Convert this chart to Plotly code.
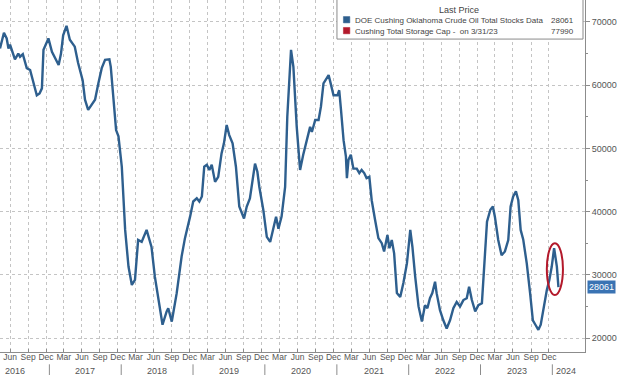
import plotly.graph_objects as go

# ---------------- data ----------------
dates = [
    "2016-04-25", "2016-05-15", "2016-05-29", "2016-06-07", "2016-06-15", "2016-07-01",
    "2016-07-10", "2016-07-27", "2016-08-05", "2016-08-19", "2016-09-08", "2016-09-25",
    "2016-10-12", "2016-10-29", "2016-11-12", "2016-11-24", "2016-12-02", "2016-12-14",
    "2016-12-27", "2017-01-14", "2017-01-27", "2017-02-17", "2017-03-01", "2017-03-12",
    "2017-03-29", "2017-04-15", "2017-05-10", "2017-05-27", "2017-06-19", "2017-07-01",
    "2017-07-17", "2017-08-04", "2017-08-21", "2017-09-07", "2017-09-24", "2017-10-11",
    "2017-11-02", "2017-11-09", "2017-11-22", "2017-12-06", "2017-12-18", "2018-01-04",
    "2018-01-21", "2018-02-07", "2018-02-24", "2018-03-12", "2018-03-28", "2018-04-15",
    "2018-05-10", "2018-06-04", "2018-06-21", "2018-07-13", "2018-07-30", "2018-08-20",
    "2018-08-28", "2018-09-15", "2018-10-10", "2018-11-04", "2018-11-21", "2018-12-17",
    "2019-01-02", "2019-01-20", "2019-02-02", "2019-02-15", "2019-02-27", "2019-03-12",
    "2019-03-25", "2019-04-06", "2019-04-23", "2019-05-09", "2019-05-26", "2019-06-07",
    "2019-06-21", "2019-07-04", "2019-07-21", "2019-08-07", "2019-08-24", "2019-09-17",
    "2019-10-01", "2019-10-17", "2019-10-31", "2019-11-12", "2019-11-24", "2019-12-04",
    "2019-12-24", "2020-01-11", "2020-01-28", "2020-02-14", "2020-02-27", "2020-03-10",
    "2020-03-26", "2020-04-13", "2020-04-24", "2020-05-13", "2020-05-25", "2020-06-11",
    "2020-06-28", "2020-07-14", "2020-08-01", "2020-08-18", "2020-08-27", "2020-09-13",
    "2020-09-30", "2020-10-12", "2020-10-25", "2020-11-12", "2020-11-20", "2020-11-28",
    "2020-12-15", "2021-01-04", "2021-01-13", "2021-01-22", "2021-02-04", "2021-02-16",
    "2021-02-21", "2021-03-01", "2021-03-13", "2021-03-26", "2021-04-12", "2021-04-25",
    "2021-05-07", "2021-05-20", "2021-06-01", "2021-06-15", "2021-06-27", "2021-07-14",
    "2021-07-31", "2021-08-17", "2021-08-29", "2021-09-15", "2021-09-25", "2021-10-07",
    "2021-10-19", "2021-11-02", "2021-11-19", "2021-12-05", "2021-12-23", "2022-01-09",
    "2022-01-20", "2022-02-03", "2022-02-20", "2022-03-09", "2022-03-25", "2022-04-06",
    "2022-04-19", "2022-05-01", "2022-05-15", "2022-05-23", "2022-06-09", "2022-06-26",
    "2022-07-13", "2022-07-30", "2022-08-16", "2022-09-02", "2022-09-19", "2022-10-06",
    "2022-10-23", "2022-11-04", "2022-11-18", "2022-12-05", "2022-12-21", "2023-01-08",
    "2023-01-20", "2023-02-03", "2023-02-20", "2023-03-05", "2023-03-15", "2023-04-01",
    "2023-04-18", "2023-05-05", "2023-05-22", "2023-06-03", "2023-06-16", "2023-06-30",
    "2023-07-12", "2023-07-24", "2023-08-06", "2023-08-24", "2023-09-10", "2023-09-24",
    "2023-10-07", "2023-10-22", "2023-11-03", "2023-11-16", "2023-12-04", "2023-12-17",
    "2023-12-29", "2024-01-10", "2024-01-24", "2024-02-01",
]
stocks = [
    65800, 68300, 67400, 65800, 66400, 64800,
    64100, 65000, 64500, 64900, 62700, 62400,
    60600, 58400, 58700, 59500, 65600, 66600,
    67400, 65300, 64500, 63200, 65000, 67900,
    69400, 67200, 66100, 63500, 60800, 57700,
    56100, 56900, 57700, 60300, 62700, 64000,
    64100, 62900, 57700, 52900, 51900, 47100,
    37100, 31300, 28400, 29200, 35500, 35200,
    37100, 34400, 29700, 25000, 22100, 24200,
    24700, 22600, 27100, 32900, 35800, 39200,
    41600, 42100, 41600, 42400, 47100, 47400,
    46600, 47400, 44700, 45500, 49200, 50800,
    53700, 52100, 50800, 47100, 40800, 38900,
    40800, 42100, 45000, 47600, 46300, 43900,
    40300, 36000, 35200, 37600, 39200, 37300,
    39200, 43900, 55000, 65600, 62900, 53400,
    46600, 49000, 51400, 53400, 52600, 54500,
    54500, 56600, 60300, 61100, 61600, 60600,
    58400, 58400, 59200, 56100, 51300, 48700,
    45300, 48200, 49000, 46800, 46800, 46100,
    46600, 46100, 45300, 45500, 41800, 38700,
    35800, 35000, 33700, 36300, 34200, 35500,
    33400, 27100, 26500, 28700, 31800, 37100,
    34400, 29700, 25000, 22600, 25200, 24700,
    26300, 27100, 28900, 27100, 24400, 22800,
    21500, 22800, 24700, 25700, 25000, 26000,
    26300, 28100, 26000, 24200, 25200, 25500,
    31300, 38400, 40300, 40800, 39200, 35500,
    33100, 33700, 35500, 40800, 42400, 43200,
    41800, 37100, 35600, 31800, 27100, 22800,
    22100, 21300, 22100, 24400, 27600, 29200,
    31300, 34200, 31300, 28061,
]

series_name = "DOE Cushing Oklahoma Crude Oil Total Stocks Data"
last_value = 28061
cap_name = "Cushing Total Storage Cap -  on 3/31/23"
cap_value = 77990
legend_title = "Last Price"

tick_years = [2016, 2017, 2018, 2019, 2020, 2021, 2022, 2023]
tick_months = [("Mar", 3), ("Jun", 6), ("Sep", 9), ("Dec", 12)]
year_labels = ["2016", "2017", "2018", "2019", "2020", "2021", "2022", "2023", "2024"]
year_label_dates = ["2016-07-08", "2017-07-01", "2018-07-01", "2019-07-01", "2020-07-01",
                    "2021-07-08", "2022-07-06", "2023-07-06", "2024-03-10"]
year_breaks = ["2017-01-01", "2018-01-01", "2019-01-01", "2020-01-01",
               "2021-01-01", "2022-01-01", "2023-01-01", "2024-01-01"]
y_ticks = [20000, 30000, 40000, 50000, 60000, 70000]
y_tick_text = ["20000", "30000", "40000", "50000", "60000", "70000"]

x_range = ["2016-04-25", "2024-06-15"]
y_range = [17785, 73480]

# build quarterly month ticks (mid-month), from Jun 2016 to Dec 2023
tick_vals, tick_text = [], []
for yr in tick_years:
    for name, m in tick_months:
        if yr == 2016 and m < 6:
            continue
        tick_vals.append(f"{yr}-{m:02d}-15")
        tick_text.append(name)

# ---------------- styling ----------------
LINE = "#2e5f8e"
RED = "#b3192b"
GRID = "#c4c4c4"
AXIS = "#8c8c8c"
TXT = "#555555"
FONT = "Liberation Sans"

fig = go.Figure()
fig.add_trace(go.Scatter(x=dates, y=stocks, mode="lines",
                         line=dict(color=LINE, width=2.4), name=series_name,
                         showlegend=False, hoverinfo="skip"))
# storage cap series (sits above the visible range, as in the reference)
fig.add_trace(go.Scatter(x=[dates[0], dates[-1]], y=[cap_value, cap_value], mode="lines",
                         line=dict(color=RED, width=2), name=cap_name,
                         showlegend=False, hoverinfo="skip"))

fig.update_layout(
    width=620, height=375,
    margin=dict(l=0, r=35, t=0, b=23),
    paper_bgcolor="white", plot_bgcolor="white",
    font=dict(family=FONT, size=9, color=TXT),
    showlegend=False,
)

fig.update_xaxes(
    type="date", range=x_range,
    tickmode="array", tickvals=tick_vals, ticktext=tick_text,
    tickangle=0,
    showgrid=True, gridcolor=GRID, griddash="dot", gridwidth=1,
    showline=True, linecolor=AXIS, linewidth=1,
    ticks="inside", ticklen=3, tickcolor=AXIS,
    tickfont=dict(size=8.5, color=TXT, family=FONT),
    ticklabelstandoff=-3,
    zeroline=False,
)
fig.update_yaxes(
    side="right", range=y_range,
    tickmode="array", tickvals=y_ticks, ticktext=y_tick_text,
    showgrid=True, gridcolor=GRID, griddash="dot", gridwidth=1,
    showline=True, linecolor=AXIS, linewidth=1,
    ticks="outside", ticklen=4, tickcolor=AXIS,
    tickfont=dict(size=9, color=TXT, family=FONT),
    minor=dict(ticks="outside", ticklen=2, tickcolor=AXIS, dtick=5000, tick0=15000, showgrid=False),
    zeroline=False,
)

shapes = []
annotations = []

# year separators and labels
for d in year_breaks:
    shapes.append(dict(type="line", xref="x", yref="paper", x0=d, x1=d, y0=-0.035, y1=-0.068,
                       line=dict(color=AXIS, width=1)))
for lab, d in zip(year_labels, year_label_dates):
    annotations.append(dict(x=d, y=-0.054, xref="x", yref="paper", text=lab, showarrow=False,
                            xanchor="center", yanchor="middle",
                            font=dict(size=9, color=TXT, family=FONT)))

# red ellipse around the latest move
shapes.append(dict(type="circle", xref="x", yref="y", x0="2023-12-04", x1="2024-02-24",
                   y0=26800, y1=35000, line=dict(color=RED, width=2), layer="above"))

# legend box
shapes.append(dict(type="rect", xref="paper", yref="paper", x0=0.576, x1=0.9966, y0=0.889, y1=1.05,
                   fillcolor="white", line=dict(color="#8a8a8a", width=1), layer="above"))
shapes.append(dict(type="rect", xref="paper", yref="paper", x0=0.587, x1=0.598, y0=0.935, y1=0.953,
                   fillcolor=LINE, line=dict(color=LINE, width=0.5), layer="above"))
shapes.append(dict(type="rect", xref="paper", yref="paper", x0=0.587, x1=0.598, y0=0.904, y1=0.922,
                   fillcolor=RED, line=dict(color=RED, width=0.5), layer="above"))
annotations.append(dict(x=0.785, y=0.972, xref="paper", yref="paper", text=legend_title,
                        showarrow=False, xanchor="center", yanchor="middle",
                        font=dict(size=9, color="#444", family=FONT)))
annotations.append(dict(x=0.604, y=0.942, xref="paper", yref="paper", text=series_name,
                        showarrow=False, xanchor="left", yanchor="middle",
                        font=dict(size=8, color="#444", family=FONT)))
annotations.append(dict(x=0.985, y=0.942, xref="paper", yref="paper", text=f"{last_value}",
                        showarrow=False, xanchor="right", yanchor="middle",
                        font=dict(size=8, color="#444", family=FONT)))
annotations.append(dict(x=0.604, y=0.911, xref="paper", yref="paper", text=cap_name,
                        showarrow=False, xanchor="left", yanchor="middle",
                        font=dict(size=8, color="#444", family=FONT)))
annotations.append(dict(x=0.985, y=0.911, xref="paper", yref="paper", text=f"{cap_value}",
                        showarrow=False, xanchor="right", yanchor="middle",
                        font=dict(size=8, color="#444", family=FONT)))

# last price tag on the right axis
annotations.append(dict(x=1, y=last_value, xref="paper", yref="y", text=f"{last_value}",
                        showarrow=False, xanchor="left", yanchor="middle", xshift=2,
                        bgcolor="#3a73b3", borderpad=1,
                        font=dict(size=9, color="white", family=FONT)))

fig.update_layout(shapes=shapes, annotations=annotations)

fig.write_html("out.html", config={"displayModeBar": False, "staticPlot": True},
               post_script="document.body.style.margin='0';document.body.style.overflow='hidden';")
